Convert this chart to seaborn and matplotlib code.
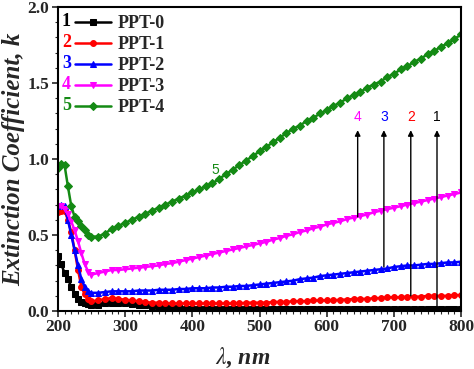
import matplotlib
matplotlib.use("Agg")
import matplotlib.pyplot as plt
import seaborn as sns
from matplotlib.ticker import MultipleLocator
from matplotlib.font_manager import FontProperties

# wavelength grid (nm)
wl = [200, 205, 210, 215, 220, 225, 230, 235, 240, 245, 250] + list(range(260, 801, 10))

# extinction coefficient k
ppt0 = [0.36, 0.31, 0.25, 0.21, 0.16, 0.11, 0.08, 0.06, 0.05, 0.045, 0.04,
        0.04, 0.05, 0.055, 0.055, 0.05,
        0.045, 0.04, 0.04, 0.035, 0.03, 0.025, 0.02, 0.02, 0.015, 0.015,
        0.015, 0.015, 0.015, 0.015, 0.015, 0.015, 0.015, 0.015, 0.015, 0.015,
        0.015, 0.015, 0.015, 0.015, 0.015, 0.015, 0.015, 0.015, 0.015, 0.015,
        0.015, 0.015, 0.015, 0.015, 0.015, 0.015, 0.015, 0.015, 0.015, 0.015,
        0.015, 0.015, 0.015, 0.015, 0.015, 0.015, 0.015, 0.015, 0.015, 0.015]
ppt1 = [0.65, 0.66, 0.66, 0.60, 0.52, 0.40, 0.27, 0.16, 0.11, 0.08, 0.065,
        0.07, 0.08, 0.085, 0.08, 0.075,
        0.07, 0.065, 0.06, 0.055, 0.055, 0.05, 0.05, 0.05, 0.05, 0.05,
        0.05, 0.05, 0.05, 0.05, 0.05, 0.05, 0.05, 0.055, 0.055, 0.055,
        0.055, 0.06, 0.06, 0.06, 0.065, 0.065, 0.065, 0.07, 0.07, 0.07,
        0.07, 0.075, 0.075, 0.08, 0.08, 0.08, 0.085, 0.085, 0.09, 0.09,
        0.09, 0.095, 0.095, 0.095, 0.10, 0.10, 0.10, 0.10, 0.105, 0.105]
ppt2 = [0.69, 0.70, 0.69, 0.60, 0.50, 0.40, 0.30, 0.21, 0.16, 0.13, 0.12,
        0.12, 0.125, 0.13, 0.13, 0.13,
        0.13, 0.135, 0.135, 0.135, 0.14, 0.14, 0.14, 0.145, 0.145, 0.15,
        0.15, 0.15, 0.155, 0.155, 0.16, 0.16, 0.165, 0.165, 0.17, 0.175,
        0.18, 0.185, 0.19, 0.195, 0.20, 0.21, 0.215, 0.22, 0.23, 0.235,
        0.24, 0.245, 0.25, 0.255, 0.26, 0.265, 0.27, 0.275, 0.28, 0.29,
        0.295, 0.30, 0.30, 0.305, 0.31, 0.31, 0.315, 0.32, 0.32, 0.325]
ppt3 = [0.69, 0.69, 0.67, 0.64, 0.59, 0.53, 0.46, 0.38, 0.31, 0.26, 0.24,
        0.25, 0.26, 0.27, 0.27, 0.275,
        0.28, 0.285, 0.29, 0.295, 0.30, 0.31, 0.315, 0.325, 0.335, 0.345,
        0.355, 0.365, 0.375, 0.385, 0.395, 0.405, 0.415, 0.425, 0.435, 0.445,
        0.455, 0.47, 0.48, 0.495, 0.505, 0.52, 0.53, 0.545, 0.555, 0.57,
        0.58, 0.59, 0.605, 0.615, 0.625, 0.635, 0.65, 0.66, 0.67, 0.68,
        0.69, 0.70, 0.71, 0.72, 0.73, 0.74, 0.75, 0.76, 0.77, 0.78]
ppt4 = [0.94, 0.97, 0.96, 0.82, 0.69, 0.62, 0.59, 0.56, 0.53, 0.50, 0.49,
        0.49, 0.51, 0.54, 0.56, 0.58,
        0.60, 0.62, 0.64, 0.66, 0.68, 0.70, 0.72, 0.74, 0.76, 0.78,
        0.80, 0.82, 0.84, 0.87, 0.90, 0.93, 0.96, 0.99, 1.02, 1.05,
        1.08, 1.11, 1.14, 1.17, 1.20, 1.22, 1.25, 1.27, 1.30, 1.32,
        1.35, 1.37, 1.40, 1.42, 1.44, 1.47, 1.49, 1.51, 1.54, 1.56,
        1.59, 1.61, 1.64, 1.66, 1.69, 1.71, 1.74, 1.76, 1.79, 1.82]

series = [ppt0, ppt1, ppt2, ppt3, ppt4]
labels = ["PPT-0", "PPT-1", "PPT-2", "PPT-3", "PPT-4"]
numbers = ["1", "2", "3", "4", "5"]
colors = ["black", "#ff0000", "#0000ff", "#ff00ff", "#148a14"]
markers = ["s", "o", "^", "v", "D"]

# arrows pointing from each curve up to its number
arrow_x = [646, 685, 725, 764]
arrow_from = [0.62, 0.29, 0.10, 0.02]
arrow_to = 1.19
arrow_nums = ["4", "3", "2", "1"]
arrow_colors = ["#ff00ff", "#0000ff", "#ff0000", "black"]

sns.set_style("ticks")
plt.rcParams["font.family"] = ["Liberation Serif", "DejaVu Serif"]
plt.rcParams["mathtext.fontset"] = "stix"

fig = plt.figure(figsize=(4.74, 3.69), dpi=100)
ax = fig.add_axes([0.122, 0.157, 0.851, 0.824])

for vals, lab, col, mk in zip(series, labels, colors, markers):
    sns.lineplot(x=wl, y=vals, ax=ax, color=col, marker=mk, markersize=4.2,
                 markeredgecolor=col, linewidth=1.8, label=lab)

ax.set_xlim(200, 800)
ax.set_ylim(0, 2.0)
ax.xaxis.set_major_locator(MultipleLocator(100))
ax.xaxis.set_minor_locator(MultipleLocator(10))
ax.yaxis.set_major_locator(MultipleLocator(0.5))
ax.yaxis.set_minor_locator(MultipleLocator(0.1))
ax.tick_params(which="major", direction="out", length=4, width=1.2,
               labelsize=12.5, pad=2)
ax.tick_params(which="minor", direction="out", length=2, width=0.8)
for t in ax.get_xticklabels() + ax.get_yticklabels():
    t.set_fontweight("bold")
for sp in ax.spines.values():
    sp.set_linewidth(1.5)
    sp.set_color("black")

ax.set_xlabel(r"$\lambda$, nm", fontsize=17, fontweight="bold", style="italic")
ax.xaxis.set_label_coords(0.457, -0.115)
ax.set_ylabel("Extinction Coefficient, k", fontsize=18, fontweight="bold",
              style="italic", labelpad=2)

# arrows + numbers
for x, y0, num, col in zip(arrow_x, arrow_from, arrow_nums, arrow_colors):
    ax.annotate("", xy=(x, arrow_to), xytext=(x, y0),
                arrowprops=dict(arrowstyle="-|>", color="black", lw=1, mutation_scale=8,
                                shrinkA=0, shrinkB=0))
    ax.text(x, arrow_to + 0.04, num, color=col, fontsize=10, ha="center", va="bottom",
            family="Liberation Sans")
ax.text(434, 0.88, "5", color=colors[4], fontsize=10, ha="center", va="bottom",
        family="Liberation Sans")

# legend with coloured numbers in front of handles
leg_font = FontProperties(family="Liberation Serif", weight="bold", size=13)
handles = ax.get_lines()[:5]
ax.get_legend().remove()
leg = ax.legend(handles, labels, loc="upper left", bbox_to_anchor=(0.022, 1.0),
                frameon=False, handlelength=2.0, handletextpad=0.35, labelspacing=0.22,
                borderaxespad=0.05, prop=leg_font)
fig.canvas.draw()
renderer = fig.canvas.get_renderer()
for h, num, col in zip(leg.legend_handles, numbers, colors):
    bb = h.get_window_extent(renderer)
    fig.text(bb.x0 - 1, (bb.y0 + bb.y1) / 2, num, transform=None, color=col,
             fontproperties=leg_font, ha="right", va="center")

fig.savefig("out.png", dpi=100)
